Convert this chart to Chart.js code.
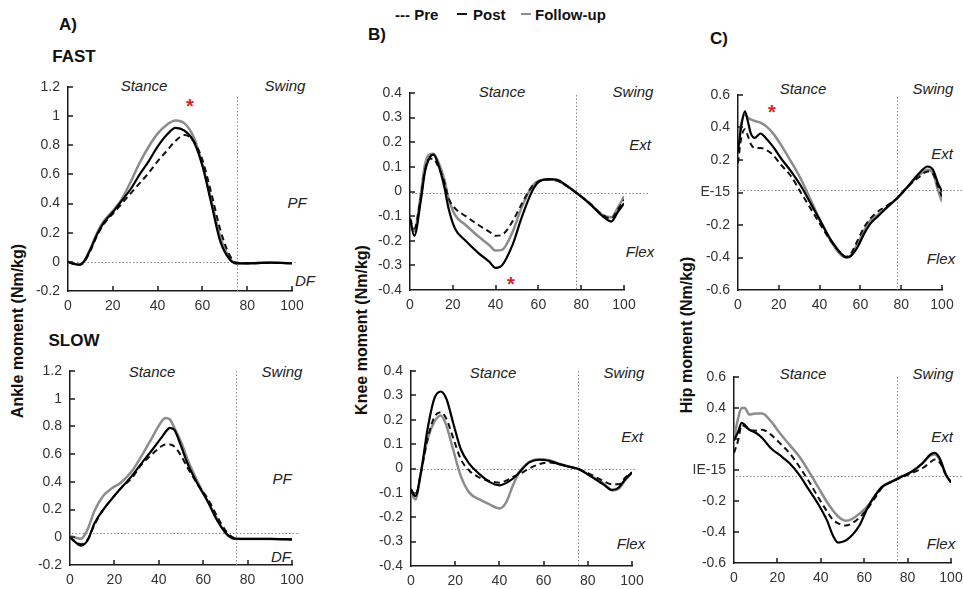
<!DOCTYPE html>
<html lang="en">
<head>
<meta charset="UTF-8">
<title>Joint moments - Pre / Post / Follow-up</title>
<style>
  html, body { margin: 0; padding: 0; background: #fff; overflow: hidden; }
  body { width: 963px; height: 589px; position: relative; font-family: "Liberation Sans", Arial, sans-serif; color: #111; }
  canvas { position: absolute; }
  .t { position: absolute; transform: translate(-50%, -50%); line-height: 1; white-space: nowrap; }
  .head { font-weight: bold; font-size: 17px; }
  .ax { font-weight: bold; font-size: 16px; transform: translate(-50%, -50%) rotate(-90deg); }
  .it { font-style: italic; font-size: 15px; color: #222; }
  .star { color: #d9232b; font-size: 20px; font-weight: bold; }
  .lg { position: absolute; top: 14px; transform: translateY(-50%); font-weight: bold; font-size: 15px; line-height: 1; white-space: nowrap; }
  .sw { position: absolute; top: 13px; height: 0; border-top: 2px solid #111; }
</style>
</head>
<body>

<!-- panel headings -->
<div class="t head" style="left:68px; top:24px;">A)</div>
<div class="t head" style="left:74px; top:56px;">FAST</div>
<div class="t head" style="left:74px; top:340px;">SLOW</div>
<div class="t head" style="left:377px; top:34px;">B)</div>
<div class="t head" style="left:719px; top:38px;">C)</div>

<!-- legend -->
<div class="lg" style="left:395px;">--- Pre</div>
<div class="sw" style="left:457px; width:10px;"></div>
<div class="lg" style="left:473px;">Post</div>
<div class="sw" style="left:521px; width:10px; border-color:#8c8c8c;"></div>
<div class="lg" style="left:535px;">Follow-up</div>

<!-- y axis titles -->
<div class="t ax" style="left:18px; top:331px;">Ankle moment (Nm/kg)</div>
<div class="t ax" style="left:362px; top:330px;">Knee moment (Nm/kg)</div>
<div class="t ax" style="left:687px; top:335px;">Hip moment (Nm/kg)</div>

<!-- in-plot labels -->
<div class="t it" style="left:144px; top:85px;">Stance</div>
<div class="t it" style="left:285px; top:85px;">Swing</div>
<div class="t it" style="left:297px; top:202px;">PF</div>
<div class="t it" style="left:305px; top:280px;">DF</div>
<div class="t star" style="left:190px; top:106px;">*</div>

<div class="t it" style="left:152px; top:371px;">Stance</div>
<div class="t it" style="left:282px; top:371px;">Swing</div>
<div class="t it" style="left:282px; top:478px;">PF</div>
<div class="t it" style="left:281px; top:556px;">DF</div>

<div class="t it" style="left:502px; top:91px;">Stance</div>
<div class="t it" style="left:633px; top:91px;">Swing</div>
<div class="t it" style="left:640px; top:144px;">Ext</div>
<div class="t it" style="left:640px; top:251px;">Flex</div>
<div class="t star" style="left:511px; top:284px;">*</div>

<div class="t it" style="left:493px; top:372px;">Stance</div>
<div class="t it" style="left:624px; top:372px;">Swing</div>
<div class="t it" style="left:632px; top:436px;">Ext</div>
<div class="t it" style="left:631px; top:543px;">Flex</div>

<div class="t it" style="left:803px; top:88px;">Stance</div>
<div class="t it" style="left:933px; top:88px;">Swing</div>
<div class="t it" style="left:942px; top:153px;">Ext</div>
<div class="t it" style="left:941px; top:258px;">Flex</div>
<div class="t star" style="left:772px; top:112px;">*</div>

<div class="t it" style="left:803px; top:373px;">Stance</div>
<div class="t it" style="left:933px; top:373px;">Swing</div>
<div class="t it" style="left:942px; top:436px;">Ext</div>
<div class="t it" style="left:941px; top:543px;">Flex</div>

<script src="https://cdn.jsdelivr.net/npm/chart.js"></script>
<script>
// % gait cycle (x) and moments (Nm/kg)

// ankle, fast
const ankleFastX      = [0, 3, 5, 7, 10, 13, 16, 20, 24, 28, 32, 36, 40, 44, 48, 52, 56, 60, 64, 68, 72, 75, 80, 90, 100];
const ankleFastPre    = [0, -0.015, -0.02, -0.005, 0.075, 0.18, 0.26, 0.33, 0.4, 0.47, 0.54, 0.61, 0.69, 0.76, 0.83, 0.87, 0.83, 0.7, 0.47, 0.22, 0.05, -0.005, -0.01, -0.008, -0.01];
const ankleFastPost   = [0, -0.015, -0.02, 0, 0.085, 0.19, 0.27, 0.34, 0.42, 0.5, 0.6, 0.69, 0.79, 0.87, 0.92, 0.9, 0.83, 0.66, 0.4, 0.14, 0.02, -0.01, -0.01, -0.005, -0.01];
const ankleFastFollow = [0, -0.015, -0.02, 0, 0.09, 0.2, 0.28, 0.35, 0.43, 0.55, 0.68, 0.79, 0.88, 0.94, 0.97, 0.95, 0.86, 0.67, 0.42, 0.17, 0.03, -0.01, -0.01, -0.005, -0.01];

// ankle, slow
const ankleSlowX      = [0, 2, 5, 8, 11, 15, 19, 23, 28, 32, 37, 41, 43, 45, 47, 50, 53, 58, 62, 66, 70, 74, 80, 90, 100];
const ankleSlowPre    = [0, -0.025, -0.05, -0.015, 0.09, 0.2, 0.28, 0.355, 0.43, 0.52, 0.6, 0.655, 0.67, 0.67, 0.655, 0.59, 0.5, 0.37, 0.28, 0.16, 0.05, -0.005, -0.012, -0.012, -0.015];
const ankleSlowPost   = [0, -0.03, -0.06, -0.02, 0.1, 0.2, 0.28, 0.355, 0.445, 0.53, 0.63, 0.715, 0.76, 0.79, 0.775, 0.66, 0.53, 0.37, 0.26, 0.13, 0.035, -0.01, -0.012, -0.012, -0.015];
const ankleSlowFollow = [0.01, 0, -0.01, 0.06, 0.19, 0.3, 0.355, 0.395, 0.48, 0.58, 0.72, 0.83, 0.86, 0.85, 0.79, 0.69, 0.56, 0.385, 0.26, 0.14, 0.03, -0.01, -0.012, -0.012, -0.018];

// knee, fast
const kneeFastX      = [0, 2, 5, 7, 9, 11, 13, 16, 18, 21, 26, 32, 37, 40, 43, 48, 52, 57, 60, 65, 69, 73, 78, 84, 90, 94, 97, 100];
const kneeFastPre    = [-0.11, -0.15, -0.027, 0.088, 0.133, 0.133, 0.105, 0.04, -0.027, -0.068, -0.1, -0.136, -0.163, -0.18, -0.176, -0.12, -0.054, 0.02, 0.04, 0.049, 0.043, 0.024, -0.008, -0.048, -0.095, -0.11, -0.075, -0.034];
const kneeFastPost   = [-0.11, -0.18, -0.04, 0.08, 0.135, 0.15, 0.115, 0.02, -0.068, -0.15, -0.2, -0.25, -0.285, -0.31, -0.3, -0.215, -0.11, 0, 0.038, 0.05, 0.047, 0.025, -0.007, -0.05, -0.1, -0.122, -0.085, -0.048];
const kneeFastFollow = [-0.12, -0.16, -0.014, 0.11, 0.15, 0.153, 0.125, 0.05, -0.027, -0.095, -0.136, -0.183, -0.217, -0.24, -0.237, -0.163, -0.068, 0.02, 0.043, 0.049, 0.043, 0.025, -0.007, -0.048, -0.095, -0.105, -0.068, -0.02];

// knee, slow
const kneeSlowX      = [0, 2, 4.5, 7.5, 10.5, 13.5, 16, 19, 22.5, 26.5, 31, 35.5, 40, 43, 46, 49, 53.5, 58, 62.5, 67, 71.5, 76, 81, 87, 91, 94, 97, 100];
const kneeSlowPre    = [-0.095, -0.113, -0.016, 0.12, 0.21, 0.231, 0.204, 0.128, 0.039, -0.01, -0.037, -0.051, -0.058, -0.05, -0.035, -0.023, 0, 0.018, 0.025, 0.018, 0.008, -0.003, -0.023, -0.051, -0.065, -0.065, -0.037, -0.016];
const kneeSlowPost   = [-0.085, -0.113, -0.016, 0.162, 0.286, 0.316, 0.286, 0.19, 0.08, 0.018, -0.023, -0.055, -0.069, -0.06, -0.042, -0.016, 0.025, 0.036, 0.032, 0.018, 0.007, -0.003, -0.03, -0.065, -0.088, -0.078, -0.044, -0.016];
const kneeSlowFollow = [-0.1, -0.127, -0.016, 0.121, 0.19, 0.217, 0.176, 0.08, -0.03, -0.1, -0.127, -0.147, -0.164, -0.14, -0.072, -0.016, 0.027, 0.038, 0.034, 0.02, 0.008, -0.003, -0.028, -0.06, -0.09, -0.083, -0.047, -0.016];

// hip, fast
const hipFastX      = [0, 1.5, 3.4, 4.8, 6.2, 8.2, 11, 13.6, 17, 21, 26, 31, 36, 41, 45.6, 50.5, 53, 55.4, 58.7, 62, 65, 68.5, 73.4, 78, 83.3, 88.2, 93, 95.6, 98, 100];
const hipFastPre    = [0.18, 0.33, 0.39, 0.35, 0.3, 0.274, 0.274, 0.264, 0.233, 0.171, 0.1, -0.004, -0.107, -0.21, -0.3, -0.375, -0.396, -0.375, -0.293, -0.21, -0.159, -0.118, -0.077, -0.035, 0.037, 0.089, 0.13, 0.115, 0.037, -0.025];
const hipFastPost   = [0.25, 0.4, 0.5, 0.44, 0.367, 0.336, 0.363, 0.336, 0.285, 0.212, 0.13, 0.037, -0.076, -0.19, -0.293, -0.375, -0.4, -0.39, -0.334, -0.25, -0.19, -0.148, -0.087, -0.035, 0.037, 0.11, 0.16, 0.14, 0.058, 0.006];
const hipFastFollow = [0.28, 0.42, 0.48, 0.46, 0.45, 0.44, 0.43, 0.41, 0.367, 0.295, 0.19, 0.078, -0.056, -0.19, -0.3, -0.385, -0.4, -0.385, -0.313, -0.23, -0.17, -0.138, -0.087, -0.035, 0.037, 0.1, 0.14, 0.12, 0.016, -0.056];

// hip, slow
const hipSlowX      = [0, 2, 3.5, 5, 7, 10, 13, 17, 21, 25.5, 30, 34.5, 39, 43, 45.5, 48, 51.5, 54.5, 58, 61.5, 65, 68.5, 73, 77.5, 82, 87, 90.5, 92.5, 95, 97.5, 100];
const hipSlowPre    = [0.11, 0.196, 0.29, 0.282, 0.26, 0.254, 0.26, 0.228, 0.175, 0.11, 0.024, -0.073, -0.181, -0.27, -0.32, -0.345, -0.358, -0.343, -0.305, -0.25, -0.18, -0.11, -0.075, -0.045, -0.02, 0.013, 0.05, 0.067, 0.045, -0.025, -0.08];
const hipSlowPost   = [0.19, 0.25, 0.305, 0.29, 0.26, 0.24, 0.207, 0.14, 0.097, 0.045, -0.03, -0.127, -0.224, -0.33, -0.42, -0.468, -0.455, -0.42, -0.353, -0.246, -0.165, -0.106, -0.073, -0.041, -0.01, 0.045, 0.1, 0.11, 0.07, -0.025, -0.08];
const hipSlowFollow = [0.2, 0.34, 0.4, 0.4, 0.358, 0.365, 0.364, 0.315, 0.24, 0.164, 0.088, -0.009, -0.116, -0.21, -0.26, -0.3, -0.328, -0.315, -0.28, -0.235, -0.165, -0.106, -0.073, -0.041, -0.01, 0.045, 0.095, 0.1, 0.06, -0.03, -0.08];

// tick values and labels
const xTicks = [0, 20, 40, 60, 80, 100];
const ankleTickVals = [-0.2, 0, 0.2, 0.4, 0.6, 0.8, 1, 1.2];
const ankleTicks    = ['-0.2', '0', '0.2', '0.4', '0.6', '0.8', '1', '1.2'];
const kneeTickVals  = [-0.4, -0.3, -0.2, -0.1, 0, 0.1, 0.2, 0.3, 0.4];
const kneeTicks     = ['-0.4', '-0.3', '-0.2', '-0.1', '0', '0.1', '0.2', '0.3', '0.4'];
const hipTickVals   = [-0.6, -0.4, -0.2, 0, 0.2, 0.4, 0.6];
const hipFastTicks  = ['-0.6', '-0.4', '-0.2', 'E-15', '0.2', '0.4', '0.6'];
const hipSlowTicks  = ['-0.6', '-0.4', '-0.2', 'IE-15', '0.2', '0.4', '0.6'];

// dotted guide lines: zero line level and toe-off (% cycle)
const zeroLevel = [0, 0.03, -0.008, 0, 0.016, -0.04];
const toeOff    = [75.4, 74.9, 77.7, 75.7, 77.9, 75];

const FONT = '"Liberation Sans", Arial, sans-serif';

// dotted reference lines + inward tick marks
const guides = {
    id: 'guides',
    beforeDatasetsDraw(chart, args, o) {
        const { ctx, chartArea: a, scales: { x, y } } = chart;
        ctx.save();
        ctx.strokeStyle = '#8a8a8a';
        ctx.lineWidth = 1;
        ctx.setLineDash([1.5, 2]);
        const yy = Math.round(y.getPixelForValue(o.h)) + 0.5;
        ctx.beginPath();
        ctx.moveTo(a.left + 2, yy);
        ctx.lineTo(a.right + o.over, yy);
        ctx.stroke();
        const xx = Math.round(x.getPixelForValue(o.v)) + 0.5;
        ctx.beginPath();
        ctx.moveTo(xx, a.top + o.vTop);
        ctx.lineTo(xx, a.bottom);
        ctx.stroke();
        ctx.restore();
    },
    afterDatasetsDraw(chart) {
        const { ctx, chartArea: a, scales: { x, y } } = chart;
        ctx.save();
        ctx.strokeStyle = '#1a1a1a';
        ctx.lineWidth = 1.5;
        ctx.beginPath();
        x.ticks.forEach((t, i) => {
            if (i === 0) return;
            const px = Math.round(x.getPixelForValue(t.value));
            ctx.moveTo(px, a.bottom);
            ctx.lineTo(px, a.bottom - 5);
        });
        y.ticks.forEach((t, i) => {
            if (i === 0) return;
            const py = Math.round(y.getPixelForValue(t.value));
            ctx.moveTo(a.left, py);
            ctx.lineTo(a.left + 5, py);
        });
        ctx.stroke();
        ctx.restore();
    }
};

const panels = [
    { area: [68, 87, 292, 291], x: ankleFastX, pre: ankleFastPre, post: ankleFastPost, follow: ankleFastFollow, tv: ankleTickVals, tl: ankleTicks, over: 5, vTop: 10 },
    { area: [70, 371, 292, 565], x: ankleSlowX, pre: ankleSlowPre, post: ankleSlowPost, follow: ankleSlowFollow, tv: ankleTickVals, tl: ankleTicks, over: 8, vTop: 0 },
    { area: [410, 93, 624, 290], x: kneeFastX, pre: kneeFastPre, post: kneeFastPost, follow: kneeFastFollow, tv: kneeTickVals, tl: kneeTicks, over: 24, vTop: 2 },
    { area: [411, 371, 632, 566], x: kneeSlowX, pre: kneeSlowPre, post: kneeSlowPost, follow: kneeSlowFollow, tv: kneeTickVals, tl: kneeTicks, over: 3, vTop: 0 },
    { area: [738, 95, 942, 290], x: hipFastX, pre: hipFastPre, post: hipFastPost, follow: hipFastFollow, tv: hipTickVals, tl: hipFastTicks, over: 20, vTop: 2 },
    { area: [734, 377, 951, 563], x: hipSlowX, pre: hipSlowPre, post: hipSlowPost, follow: hipSlowFollow, tv: hipTickVals, tl: hipSlowTicks, over: 12, vTop: 0 }
];

const PAD_L = 60, PAD_T = 20, PAD_R = 30, PAD_B = 30;

function pts(xs, ys) {
    return xs.map((x, i) => ({ x: x, y: ys[i] }));
}

panels.forEach((p, n) => {
    const [L, T, R, B] = p.area;
    const c = document.createElement('canvas');
    c.width = (R - L) + PAD_L + PAD_R;
    c.height = (B - T) + PAD_T + PAD_B;
    c.style.left = (L - PAD_L) + 'px';
    c.style.top = (T - PAD_T) + 'px';
    document.body.appendChild(c);

    new Chart(c, {
        type: 'line',
        data: {
            datasets: [
                { label: 'Post', data: pts(p.x, p.post), borderColor: '#000', borderWidth: 2.2 },
                { label: 'Pre', data: pts(p.x, p.pre), borderColor: '#111', borderWidth: 2, borderDash: [6, 4] },
                { label: 'Follow-up', data: pts(p.x, p.follow), borderColor: '#8c8c8c', borderWidth: 2.5 }
            ]
        },
        options: {
            responsive: false,
            animation: false,
            layout: { padding: { left: 0, top: PAD_T, right: PAD_R, bottom: 0 } },
            elements: {
                point: { radius: 0 },
                line: { cubicInterpolationMode: 'monotone', fill: false }
            },
            plugins: {
                legend: { display: false },
                tooltip: { enabled: false },
                guides: { h: zeroLevel[n], v: toeOff[n], over: p.over, vTop: p.vTop }
            },
            scales: {
                x: {
                    type: 'linear',
                    min: 0,
                    max: 100,
                    afterBuildTicks: s => { s.ticks = xTicks.map(v => ({ value: v })); },
                    afterFit: s => { s.height = PAD_B; },
                    grid: { display: false, drawTicks: false },
                    border: { display: true, color: '#1a1a1a', width: 1.5 },
                    ticks: {
                        callback: v => String(v),
                        padding: 7,
                        maxRotation: 0,
                        autoSkip: false,
                        color: '#333',
                        font: { family: FONT, size: 14 }
                    }
                },
                y: {
                    min: p.tv[0],
                    max: p.tv[p.tv.length - 1],
                    afterBuildTicks: s => { s.ticks = p.tv.map(v => ({ value: v })); },
                    afterFit: s => { s.width = PAD_L; },
                    grid: { display: false, drawTicks: false },
                    border: { display: true, color: '#1a1a1a', width: 1.5 },
                    ticks: {
                        callback: (v, i) => p.tl[i],
                        padding: 8,
                        autoSkip: false,
                        color: '#333',
                        font: { family: FONT, size: 14 }
                    }
                }
            }
        },
        plugins: [guides]
    });
});
</script>
</body>
</html>
